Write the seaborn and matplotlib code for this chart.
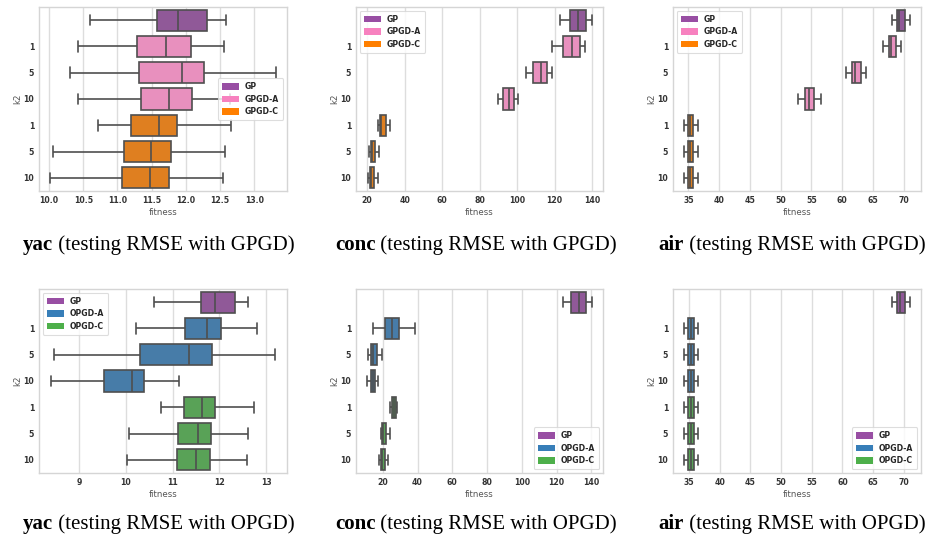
import numpy as np
import pandas as pd
import matplotlib
matplotlib.use("Agg")
import matplotlib.pyplot as plt
import seaborn as sns
from matplotlib.patches import Patch

# ---------------- data (five-number summaries: low whisker, Q1, median, Q3, high whisker)
row_ids = ["GP", "A1", "A5", "A10", "C1", "C5", "C10"]
k2_labels = ["", "1", "5", "10", "1", "5", "10"]

yac_gpgd = [[10.60, 11.58, 11.89, 12.31, 12.58],
            [10.43, 11.29, 11.71, 12.08, 12.55],
            [10.31, 11.32, 11.94, 12.27, 13.31],
            [10.43, 11.35, 11.76, 12.09, 12.65],
            [10.71, 11.20, 11.60, 11.87, 12.66],
            [10.06, 11.09, 11.49, 11.78, 12.57],
            [10.02, 11.06, 11.47, 11.76, 12.54]]
conc_gpgd = [[123.1, 128.1, 132.5, 136.8, 140.0],
             [118.7, 124.7, 129.5, 133.4, 136.2],
             [105.0, 108.7, 112.5, 115.7, 118.7],
             [89.6, 92.4, 95.6, 98.4, 100.6],
             [26.0, 27.0, 27.6, 30.1, 32.4],
             [21.2, 22.0, 22.7, 24.4, 26.2],
             [20.7, 21.6, 22.1, 23.7, 25.9]]
air_gpgd = [[68.1, 69.0, 69.3, 70.2, 71.0],
            [66.7, 67.55, 67.9, 68.8, 69.6],
            [60.65, 61.6, 62.1, 63.0, 63.9],
            [52.9, 54.0, 54.6, 55.4, 56.5],
            [34.3, 34.95, 35.3, 35.8, 36.5],
            [34.3, 34.95, 35.3, 35.8, 36.5],
            [34.3, 34.95, 35.3, 35.8, 36.5]]
yac_opgd = [[10.60, 11.60, 11.90, 12.33, 12.60],
            [10.21, 11.26, 11.74, 12.03, 12.81],
            [8.46, 10.30, 11.35, 11.84, 13.19],
            [8.39, 9.53, 10.12, 10.38, 11.14],
            [10.74, 11.24, 11.63, 11.91, 12.73],
            [10.06, 11.11, 11.54, 11.81, 12.61],
            [10.02, 11.09, 11.50, 11.79, 12.59]]
conc_opgd = [[123.6, 128.4, 133.0, 137.0, 140.3],
             [14.6, 21.0, 25.4, 29.6, 38.8],
             [11.6, 13.5, 14.6, 16.4, 19.8],
             [10.8, 13.1, 14.2, 15.6, 17.3],
             [24.4, 25.4, 26.3, 27.7, 28.4],
             [18.7, 19.4, 20.4, 21.9, 24.0],
             [18.1, 18.7, 19.6, 21.0, 23.1]]
air_opgd = [[68.1, 68.9, 69.35, 70.2, 71.0],
            [34.25, 34.9, 35.3, 35.8, 36.5],
            [34.25, 34.9, 35.3, 35.8, 36.5],
            [34.25, 34.9, 35.3, 35.8, 36.5],
            [34.25, 34.9, 35.3, 35.8, 36.5],
            [34.25, 34.9, 35.3, 35.8, 36.5],
            [34.25, 34.9, 35.3, 35.8, 36.5]]

gpgd_methods = ["GP", "GPGD-A", "GPGD-A", "GPGD-A", "GPGD-C", "GPGD-C", "GPGD-C"]
opgd_methods = ["GP", "OPGD-A", "OPGD-A", "OPGD-A", "OPGD-C", "OPGD-C", "OPGD-C"]

colors = {"GP": "#984ea3", "GPGD-A": "#f781bf", "GPGD-C": "#ff7f00",
          "OPGD-A": "#377eb8", "OPGD-C": "#4daf4a"}

datasets = ["yac", "conc", "air"]
captions_rest = [" (testing RMSE with GPGD)", " (testing RMSE with OPGD)"]

panels = [
    (yac_gpgd, gpgd_methods, (9.853, 13.478), [10.0, 10.5, 11.0, 11.5, 12.0, 12.5, 13.0], "center right"),
    (conc_gpgd, gpgd_methods, (14.1, 145.8), [20, 40, 60, 80, 100, 120, 140], "upper left"),
    (air_gpgd, gpgd_methods, (32.5, 72.83), [35, 40, 45, 50, 55, 60, 65, 70], "upper left"),
    (yac_opgd, opgd_methods, (8.143, 13.443), [9, 10, 11, 12, 13], "upper left"),
    (conc_opgd, opgd_methods, (4.6, 146.7), [20, 40, 60, 80, 100, 120, 140], "lower right"),
    (air_opgd, opgd_methods, (32.4, 72.8), [35, 40, 45, 50, 55, 60, 65, 70], "lower right"),
]

# ---------------- figure
sns.set_theme(style="whitegrid")
plt.rcParams["font.family"] = ["DejaVu Sans"]

W, H = 928, 544
fig = plt.figure(figsize=(W / 100, H / 100), dpi=100)

col_x = [(39, 287), (356, 603), (673, 921)]
row_y = [(7, 191), (289, 473)]
caption_y = [245, 524]
caption_x = [159, 476, 792]

tick_fs = 5.6
label_fs = 6.2

for idx, (stats, methods, xlim, xticks, legloc) in enumerate(panels):
    r, c = divmod(idx, 3)
    x0, x1 = col_x[c]
    y0, y1 = row_y[r]
    ax = fig.add_axes([x0 / W, 1 - y1 / H, (x1 - x0) / W, (y1 - y0) / H])

    recs = []
    for rid, m, s in zip(row_ids, methods, stats):
        for v in s:
            recs.append({"k2": rid, "method": m, "fitness": v})
    df = pd.DataFrame(recs)
    hue_order = list(dict.fromkeys(methods))

    sns.boxplot(data=df, x="fitness", y="k2", hue="method", order=row_ids,
                hue_order=hue_order, palette=colors, dodge=False, whis=(0, 100),
                width=0.8, linewidth=1.2, linecolor="#4f4f4f", saturation=0.75,
                legend=False, ax=ax)

    ax.set_xlim(*xlim)
    ax.set_xticks(xticks)
    ax.set_xticklabels([("%.1f" % t) if isinstance(t, float) else str(t) for t in xticks],
                       fontsize=tick_fs, fontweight="bold", color="#333333")
    ax.set_yticks(range(len(row_ids)))
    ax.set_yticklabels(k2_labels, fontsize=tick_fs, fontweight="bold", color="#333333")
    ax.tick_params(axis="both", length=0, pad=3.5)
    ax.set_xlabel("fitness", fontsize=label_fs, color="#555555", labelpad=2)
    ax.set_ylabel("k2", fontsize=label_fs, color="#555555", labelpad=1)
    ax.grid(True, axis="x", color="#dddddd", linewidth=1.0)
    ax.grid(False, axis="y")
    for sp in ax.spines.values():
        sp.set_color("#d5d5d5")
        sp.set_linewidth(1.0)

    handles = [Patch(facecolor=colors[m], edgecolor="none", label=m) for m in hue_order]
    leg = ax.legend(handles=handles, loc=legloc, prop={"size": tick_fs, "weight": "bold"},
                    frameon=True, handlelength=2.2, handleheight=0.9,
                    borderpad=0.5, labelspacing=0.45, borderaxespad=0.5)
    leg.get_frame().set_edgecolor("#d5d5d5")
    leg.get_frame().set_linewidth(0.8)

    # caption: bold dataset name + regular rest, centred as a unit
    cy = 1 - caption_y[r] / H
    t1 = fig.text(0, cy, datasets[c], fontsize=15, fontweight="bold",
                  family="Liberation Serif", va="center", ha="left", color="black")
    t2 = fig.text(0, cy, captions_rest[r], fontsize=15, family="Liberation Serif",
                  va="center", ha="left", color="black")
    fig.canvas.draw()
    rend = fig.canvas.get_renderer()
    w1 = t1.get_window_extent(rend).width
    w2 = t2.get_window_extent(rend).width
    start = caption_x[c] - (w1 + w2) / 2
    t1.set_x(start / W)
    t2.set_x((start + w1) / W)

fig.savefig("out.png", dpi=100)
